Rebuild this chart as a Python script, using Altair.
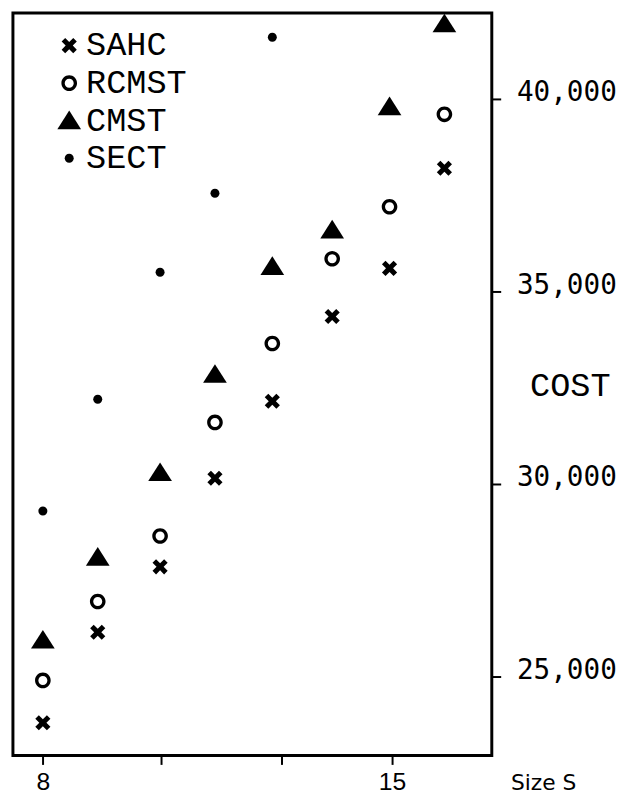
import altair as alt
import pandas as pd

# Problem size columns
sizes = [8.0, 9.1, 10.35, 11.45, 12.6, 13.8, 14.95, 16.05]

sahc = [23800, 26150, 27850, 30150, 32150, 34350, 35600, 38200]
rcmst = [24900, 26950, 28650, 31600, 33650, 35850, 37200, 39600]
cmst = [25950, 28100, 30300, 32850, 35650, 36600, 39800, 41950]
sect = [29300, 32200, 35500, 37550, 41600]

series_names = ["SAHC", "RCMST", "CMST", "SECT"]
y_ticks = [25000, 30000, 35000, 40000]
x_ticks = [8, 10.37, 12.78, 15]

rows = []
for name, vals in zip(series_names, [sahc, rcmst, cmst, sect]):
    for xv, yv in zip(sizes, vals):
        rows.append({"size": xv, "cost": yv, "method": name})
df = pd.DataFrame(rows)

# marker glyphs (unit box -1..1)
X_PATH = ("M-0.64,-0.34L-0.34,-0.64L0,-0.3L0.34,-0.64L0.64,-0.34L0.3,0"
          "L0.64,0.34L0.34,0.64L0,0.3L-0.34,0.64L-0.64,0.34L-0.3,0Z")
RING_PATH = ("M-0.66,0A0.66,0.66,0,1,0,0.66,0A0.66,0.66,0,1,0,-0.66,0Z"
             "M-0.38,0A0.38,0.38,0,1,1,0.38,0A0.38,0.38,0,1,1,-0.38,0Z")
TRI_PATH = "M0,-0.85L1.0,0.72L-1.0,0.72Z"
DOT_PATH = "M-0.38,0A0.38,0.38,0,1,0,0.38,0A0.38,0.38,0,1,0,-0.38,0Z"

chart = alt.Chart(df).mark_point(
    filled=True, color="black", opacity=1, size=576, strokeWidth=0, clip=False
).encode(
    x=alt.X(
        "size:Q",
        scale=alt.Scale(domain=[7.4, 17.0], nice=False, zero=False),
        axis=alt.Axis(
            values=x_ticks,
            labelExpr="datum.value == 8 ? '8' : (datum.value == 15 ? '15' : '')",
            grid=False, domain=False,
            tickColor="black", tickWidth=2, tickSize=9,
            labelFont="Liberation Sans", labelFontSize=25, labelColor="black",
            labelPadding=5,
            title="Size S", titleFont="DejaVu Sans", titleFontSize=22,
            titleFontWeight="normal", titleColor="black",
            titleAlign="left", titleBaseline="top", titleX=504, titleY=17,
        ),
    ),
    y=alt.Y(
        "cost:Q",
        scale=alt.Scale(domain=[22950, 42230], nice=False, zero=False),
        axis=alt.Axis(
            orient="right", values=y_ticks, format=",d",
            grid=False, domain=False,
            tickColor="black", tickWidth=2, tickSize=9,
            labelFont="DejaVu Sans Mono", labelFontSize=28, labelColor="black",
            labelPadding=16, labelOffset=-6, labelAlign="left",
            title="COST", titleAngle=0, titleFont="Liberation Mono",
            titleFontSize=34, titleFontWeight="normal", titleColor="black",
            titleAlign="center", titleBaseline="middle", titleX=79, titleY=377,
        ),
    ),
    shape=alt.Shape(
        "method:N",
        scale=alt.Scale(domain=series_names,
                        range=[X_PATH, RING_PATH, TRI_PATH, DOT_PATH]),
        legend=alt.Legend(
            title=None, orient="none", legendX=40, legendY=16,
            symbolSize=576, symbolFillColor="black", symbolStrokeColor="black",
            symbolStrokeWidth=0, symbolOpacity=1,
            labelFont="Liberation Mono", labelFontSize=34, labelColor="black",
            labelOffset=0, rowPadding=4, padding=0,
        ),
    ),
).properties(
    width=485, height=752,
    padding={"left": 5, "top": 0, "right": 142, "bottom": 43},
    autosize=alt.AutoSizeParams(type="none"),
).configure_view(
    stroke="black", strokeWidth=3
)

chart.save("out.html", embed_options={"renderer": "svg", "actions": False})
